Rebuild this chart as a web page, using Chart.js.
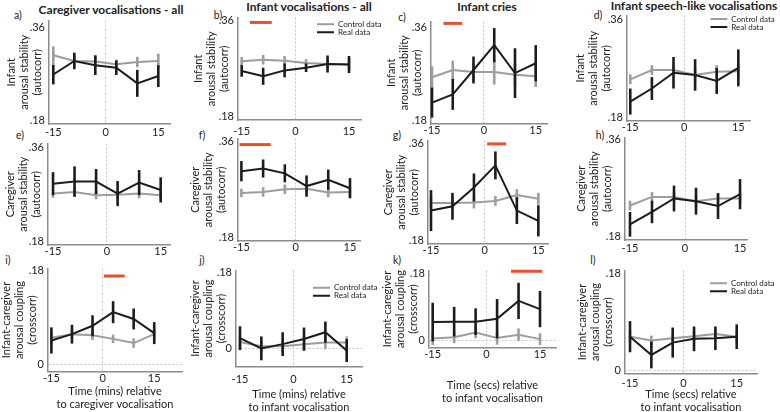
<!DOCTYPE html>
<html>
<head>
<meta charset="utf-8">
<script src="https://cdn.jsdelivr.net/npm/chart.js@4.4.1/dist/chart.umd.min.js"></script>
<style>
  html, body { margin: 0; padding: 0; background: #fff; }
  body { width: 780px; height: 412px; position: relative; overflow: hidden; font-family: Lato, "Open Sans", sans-serif; color: #222; }
  canvas { position: absolute; }
  .lbl { position: absolute; transform: translate(-50%, -50%); white-space: nowrap; }
  .col { font-weight: bold; font-size: 12px; }
  .let { font-size: 10.5px; }
</style>
</head>
<body>
<script>
// time bins (x), same for every panel
const times = [-15, -9, -3, 3, 9, 15];

// panels a..l, row by row
const realMean = [
  [.269, .295, .287, .282, .252, .266],
  [.266, .256, .267, .272, .279, .278],
  [.215, .231, .278, .326, .272, .291],
  [.209, .233, .262, .258, .247, .271],
  [.291, .295, .295, .272, .293, .279],
  [.305, .310, .301, .277, .289, .273],
  [.236, .244, .279, .320, .236, .217],
  [.203, .226, .251, .246, .237, .259],
  [.046, .058, .074, .100, .087, .060],
  [.025, .001, .011, .023, .039, -.004],
  [.050, .051, .051, .059, .107, .085],
  [.063, .029, .052, .059, .060, .063]
];
const realErr = [
  [.019, .016, .019, .014, .026, .021],
  [.011, .016, .013, .008, .016, .016],
  [.029, .030, .026, .033, .048, .035],
  [.024, .021, .029, .029, .024, .034],
  [.022, .029, .024, .024, .024, .024],
  [.019, .017, .017, .020, .019, .019],
  [.038, .025, .026, .026, .025, .029],
  [.023, .021, .024, .025, .024, .028],
  [.025, .018, .020, .021, .020, .021],
  [.028, .028, .028, .027, .025, .027],
  [.052, .040, .036, .053, .049, .049],
  [.029, .025, .028, .023, .022, .023]
];
const ctrlMean = [
  [.306, .295, .294, .289, .293, .295],
  [.284, .287, .285, .281, .279, .278],
  [.264, .278, .274, .274, .269, .266],
  [.250, .267, .267, .258, .264, .265],
  [.272, .275, .269, .270, .272, .269],
  [.264, .266, .271, .272, .265, .266],
  [.250, .250, .251, .254, .265, .258],
  [.238, .254, .254, .246, .251, .251],
  [.051, .058, .056, .049, .041, .058],
  [.016, .006, .006, .011, .015, .015],
  [.006, .009, .022, .007, .016, .004],
  [.063, .056, .060, .064, .068, .063]
];
const ctrlErr = [
  [.017, .012, .011, .009, .010, .014],
  [.008, .009, .009, .007, .009, .011],
  [.021, .018, .018, .024, .022, .021],
  [.009, .009, .009, .012, .012, .014],
  [.008, .009, .008, .008, .009, .008],
  [.008, .009, .009, .009, .009, .009],
  [.012, .012, .011, .009, .011, .011],
  [.009, .009, .009, .010, .009, .010],
  [.013, .009, .009, .008, .009, .009],
  [.014, .013, .013, .016, .016, .014],
  [.018, .016, .016, .018, .017, .016],
  [.011, .009, .008, .010, .009, .011]
];
// significant windows: [from, to, drawn at y]
const sigSpan = [null, [-12.7, -6.6, .357], [-11.7, -6.3, .368], null,
                 null, [-15.5, -6.9, .355], [0.7, 6.0, .36], null,
                 [0.3, 6.4, .169], null, [6.9, 15.6, .187], null];

const columnTitles = ['Caregiver vocalisations - all', 'Infant vocalisations - all', 'Infant cries', 'Infant speech-like vocalisations'];
const panelLetters = ['a)', 'b)', 'c)', 'd)', 'e)', 'f)', 'g)', 'h)', 'i)', 'j)', 'k)', 'l)'];
const yTitles = [
  ['Infant', 'arousal stability', '(autocorr)'],
  ['Caregiver', 'arousal stability', '(autocorr)'],
  ['Infant-caregiver', 'arousal coupling', '(crosscorr)']
];
const xTitles = [
  ['Time (mins) relative', 'to caregiver vocalisation'],
  ['Time (mins) relative', 'to infant vocalisation'],
  ['Time (secs) relative', 'to infant vocalisation'],
  ['Time (secs) relative', 'to infant vocalisation']
];
const yTicksByRow = [[.18, .36], [.18, .36], [0, .18]];
const xTicks = [-15, 0, 15];
const legendPanels = [1, 3, 9, 11];

// page layout (px): L, R, T, B, xMin, xMax, yMin, yMax, yTitlePad, tickPad, xAxisH, legendX, legendY
const geom = [
  [49, 170, 20, 124, -16.23, 18.34, .1737, .3728, 15.5, 1.4, 16],
  [238, 361, 16.7, 120, -16.03, 18.35, .1739, .3661, 13.5, 5, 18, 317, 20],
  [430.7, 547, 20.7, 124, -15.29, 18.26, .1737, .3715, 13.8, 0, 16],
  [626.7, 750, 15, 121, -15.91, 18.24, .1732, .3673, 6.8, 0, 16, 710, 15],
  [48.3, 170, 143.3, 245, -16.4, 17.6, .1737, .3676, 16.2, 0, 16],
  [238.3, 360, 138.3, 241.7, -15.94, 17.77, .1737, .3663, 11.2, 0, 16],
  [427.7, 548, 140, 244, -15.84, 17.7, .1739, .3661, 13.8, 0, 16],
  [625, 747, 136.7, 240, -16.36, 16.9, .1739, .3642, 9.5, 1.7, 16],
  [48.3, 182, 268.3, 372, -15.99, 23.1, -.0133, .1832, 12.2, 0.4, 39.5],
  [236, 362, 270, 366, -16.12, 19.3, -.0416, .184, 12.5, 6.4, 47.5, 313, 283.7],
  [429, 556, 270, 347, -16.03, 19.47, -.0186, .1888, 11.5, 0.4, 57.5],
  [625, 757, 270, 373, -16.41, 20.7, -.0056, .1861, 10.5, 3.4, 40.5, 710, 279.3]
];
const colTitlePos = [[111, 9], [309, 6], [487, 6], [694, 5]];
const letterPos = [[18, 15], [218, 15], [402, 17], [598, 15], [20, 135], [202, 135], [397, 135], [600, 135], [8, 260], [202, 260], [397, 260], [593, 260]];

const FONT = 'Lato, "Open Sans", sans-serif';
const BLACK = '#1c1c1c', GREY = '#9d9d9d', RED = '#e9502c', AXIS = '#8c8c8c';

// vertical error bars, drawn right after their own line
const errorBars = {
  id: 'errorBars',
  afterDatasetDraw(chart, args) {
    const ds = chart.data.datasets[args.index];
    if (!ds.errors) return;
    const ctx = chart.ctx, y = chart.scales.y;
    ctx.save();
    ctx.strokeStyle = ds.borderColor;
    ctx.lineWidth = ds.errorWidth;
    args.meta.data.forEach((pt, i) => {
      const v = ds.data[i].y, e = ds.errors[i];
      ctx.beginPath();
      ctx.moveTo(pt.x, y.getPixelForValue(v + e));
      ctx.lineTo(pt.x, y.getPixelForValue(v - e));
      ctx.stroke();
    });
    ctx.restore();
  }
};

// put the small legend where the original has it
const legendPlace = {
  id: 'legendPlace',
  afterLayout(chart, args, opts) {
    const lg = chart.legend;
    if (!lg || opts.left == null) return;
    lg.left = opts.left; lg.top = opts.top;
    lg.right = lg.left + lg.width; lg.bottom = lg.top + lg.height;
  }
};

columnTitles.forEach((t, i) => {
  const d = document.createElement('div');
  d.className = 'lbl col'; d.textContent = t;
  d.style.left = colTitlePos[i][0] + 'px'; d.style.top = colTitlePos[i][1] + 'px';
  document.body.appendChild(d);
});
panelLetters.forEach((t, i) => {
  const d = document.createElement('div');
  d.className = 'lbl let'; d.textContent = t;
  d.style.left = letterPos[i][0] + 'px'; d.style.top = letterPos[i][1] + 'px';
  document.body.appendChild(d);
});

geom.forEach((g, k) => {
  const [L, R, T, B, x0, x1, y0, y1, tPad, kPad, xH, lgX, lgY] = g;
  const row = Math.floor(k / 4), col = k % 4;
  const cl = L - 60, ct = T - 10;
  const cv = document.createElement('canvas');
  cv.width = Math.round(R + 25 - cl);
  cv.height = Math.round(B + xH - ct);
  cv.style.left = cl + 'px';
  cv.style.top = ct + 'px';
  document.body.appendChild(cv);

  const sig = sigSpan[k];
  const hasLegend = legendPanels.includes(k);

  new Chart(cv, {
    type: 'line',
    data: {
      datasets: [
        {
          label: 'Real data',
          data: times.map((t, i) => ({ x: t, y: realMean[k][i] })),
          errors: realErr[k], errorWidth: 2.6,
          borderColor: BLACK, backgroundColor: BLACK, borderWidth: 2,
          pointRadius: 0, tension: 0, clip: false
        },
        {
          label: 'Control data',
          data: times.map((t, i) => ({ x: t, y: ctrlMean[k][i] })),
          errors: ctrlErr[k], errorWidth: 2.6,
          borderColor: GREY, backgroundColor: GREY, borderWidth: 2,
          pointRadius: 0, tension: 0, clip: false
        },
        {
          label: 'sig',
          data: sig ? [{ x: sig[0], y: sig[2] }, { x: sig[1], y: sig[2] }] : [],
          borderColor: RED, borderWidth: 3, pointRadius: 0, clip: false
        }
      ]
    },
    options: {
      responsive: false,
      animation: false,
      devicePixelRatio: 1,
      layout: { padding: { left: 0, top: 10, right: 25, bottom: 0 } },
      scales: {
        x: {
          type: 'linear', min: x0, max: x1,
          afterFit: s => { s.height = xH; },
          afterBuildTicks: s => { s.ticks = xTicks.map(v => ({ value: v })); },
          ticks: { padding: kPad, maxRotation: 0, autoSkip: false, color: '#222', font: { family: FONT, size: 11 }, callback: v => String(v) },
          grid: { drawTicks: false, lineWidth: 1, color: c => (c.tick && c.tick.value === 0) ? '#c6c6c6' : 'rgba(0,0,0,0)' },
          border: { color: AXIS, width: 1.5, dash: [2, 2] },
          title: row === 2 ? { display: true, text: xTitles[col], color: '#222', padding: { top: 0, bottom: 0 }, font: { family: FONT, size: 11, lineHeight: '13px' } } : { display: false }
        },
        y: {
          type: 'linear', min: y0, max: y1,
          afterFit: s => { s.width = 60; },
          afterBuildTicks: s => { s.ticks = yTicksByRow[row].map(v => ({ value: v })); },
          ticks: { padding: 4, color: '#222', font: { family: FONT, size: 11 }, callback: v => v === 0 ? '0' : String(v).replace(/^0/, '') },
          grid: { drawTicks: false, lineWidth: 1, color: c => (c.tick && c.tick.value === 0) ? '#c6c6c6' : 'rgba(0,0,0,0)' },
          border: { color: AXIS, width: 1.5, dash: [2, 2] },
          title: { display: true, text: yTitles[row], color: '#222', padding: { top: tPad, bottom: 0 }, font: { family: FONT, size: 11, lineHeight: '13px' } }
        }
      },
      plugins: {
        tooltip: { enabled: false },
        legend: {
          display: hasLegend,
          position: 'chartArea',
          align: 'start',
          reverse: true,
          labels: {
            filter: item => item.datasetIndex < 2,
            usePointStyle: true, pointStyle: 'line', pointStyleWidth: 17,
            padding: 0, color: '#222',
            font: { family: FONT, size: 8 }
          }
        },
        legendPlace: hasLegend ? { left: lgX - cl, top: lgY - ct } : {}
      }
    },
    plugins: [errorBars, legendPlace]
  });
});
</script>
</body>
</html>
